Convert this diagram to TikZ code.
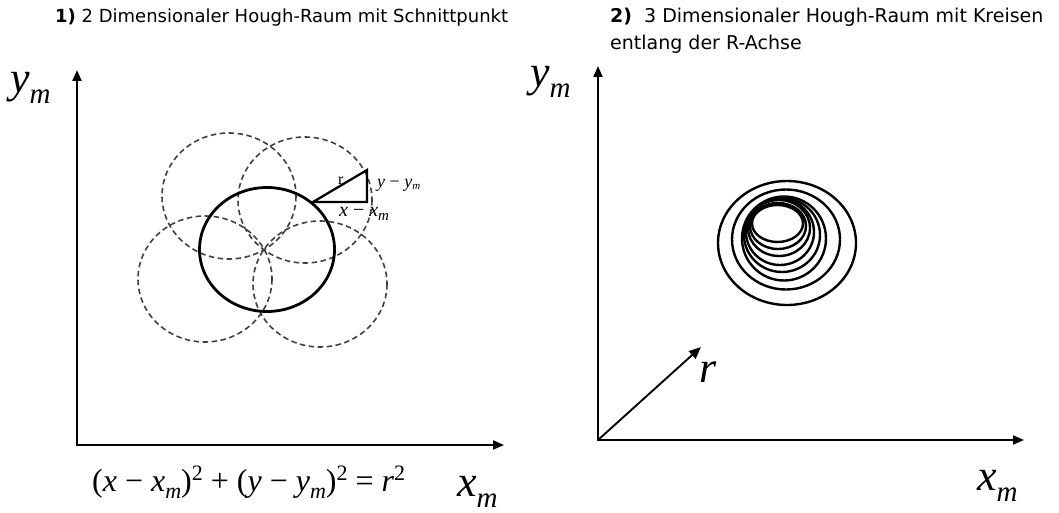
\documentclass[tikz,border=0pt]{standalone}
\usepackage{fontspec}
\setmainfont{DejaVu Sans}
\newfontfamily\tnr{Liberation Serif}
\usetikzlibrary{arrows.meta}
\newcommand\bigsub[1]{\raisebox{-11pt}{\fontsize{29}{29}\selectfont #1}}
\newcommand\eqsub[1]{\raisebox{-7pt}{\fontsize{22}{22}\selectfont\itshape #1}}
\newcommand\eqsup[1]{\raisebox{11pt}{\fontsize{22}{22}\selectfont #1}}
\begin{document}
\begin{tikzpicture}[x=1pt,y=-1pt,
  axis/.style={line width=2.1pt,{Triangle[length=11pt,width=9pt]}-{Triangle[length=11pt,width=9pt]}},
  oneaxis/.style={line width=1.9pt,-{Triangle[length=12pt,width=10pt]}},
  dashc/.style={draw=black!75,line width=1.6pt,dash pattern=on 5.5pt off 3.5pt},
  solidc/.style={draw=black,line width=2.8pt},
  ring/.style={draw=black,line width=2.4pt},
  lbl/.style={inner sep=0pt,anchor=base west},
  big/.style={lbl,font=\tnr\itshape\fontsize{44}{44}\selectfont},
  ttl/.style={lbl,font=\fontsize{18}{18}\selectfont}]
\useasboundingbox (0,0) rectangle (1059,513);

% ---------- titles
\node[ttl] (t1) at (55,23) {\textbf{1)} 2 Dimensionaler Hough-Raum mit Schnittpunkt};
\node[ttl,font=\fontsize{19}{19}\selectfont] (t2) at (610,23) {\textbf{2)}\ \ 3 Dimensionaler Hough-Raum mit Kreisen};
\node[ttl,font=\fontsize{19}{19}\selectfont] (t3) at (610,50) {entlang der R-Achse};

% ---------- left panel
\coordinate (O1) at (77,445);
\coordinate (Y1) at (77,70);
\coordinate (X1) at (504,445);
\draw[axis] (Y1) -- (O1) -- (X1);
\node[big] (ylab1) at (10,93) {y\bigsub{m}};
\node[big] (xlab1) at (457,496) {x\bigsub{m}};

\draw[dashc] (229,196) ellipse [x radius=67,y radius=63];
\draw[dashc] (305,200) ellipse [x radius=67,y radius=63];
\draw[dashc] (205,279) ellipse [x radius=67,y radius=63];
\draw[dashc] (320,284) ellipse [x radius=67,y radius=63];
\draw[solidc] (267,249.5) ellipse [x radius=67.5,y radius=62];

\coordinate (A) at (313,202);
\coordinate (B) at (367,202);
\coordinate (C) at (367,170);
\draw[line width=2.3pt,line join=miter] (A) -- (B) -- (C) -- cycle;
\node[lbl,font=\tnr\fontsize{16}{16}\selectfont] (rt) at (338,185) {r};
\node[lbl,font=\tnr\fontsize{18}{18}\selectfont] (dy) at (377,187)
  {\textit{y} − \textit{y}\raisebox{-2pt}{\fontsize{11}{11}\selectfont\textit{m}}};
\node[lbl,font=\tnr\fontsize{20}{20}\selectfont] (dx) at (339,216)
  {\textit{x} − \textit{x}\raisebox{-4pt}{\fontsize{15}{15}\selectfont\textit{m}}};

\node[lbl,font=\tnr\fontsize{32}{32}\selectfont] (eq) at (92,491)
  {(\textit{x} − \textit{x}\eqsub{m})\eqsup{2} + (\textit{y} − \textit{y}\eqsub{m})\eqsup{2} = \textit{r}\eqsup{2}};

% ---------- right panel
\coordinate (O2) at (598,440);
\coordinate (Y2) at (598,66);
\coordinate (X2) at (1024,440);
\coordinate (R2) at (701,347);
\draw[axis] (Y2) -- (O2) -- (X2);
\draw[oneaxis] (O2) -- (R2);
\node[big] (ylab2) at (530,87) {y\bigsub{m}};
\node[big] (xlab2) at (977,490) {x\bigsub{m}};
\node[big] (rlab) at (699,382) {r};

\draw[ring] (787,243) ellipse [x radius=69,y radius=62];
\draw[ring] (786,239.5) ellipse [x radius=54,y radius=50];
\draw[ring] (784,238.5) ellipse [x radius=42,y radius=42];
\draw[ring] (782,235) ellipse [x radius=38,y radius=37];
\draw[ring] (780,232) ellipse [x radius=34,y radius=33];
\draw[ring] (779,228) ellipse [x radius=31,y radius=28];
\draw[ring] (778,226) ellipse [x radius=28,y radius=23];
\draw[ring] (777.5,223.5) ellipse [x radius=25.5,y radius=18.5];
\end{tikzpicture}
\end{document}
